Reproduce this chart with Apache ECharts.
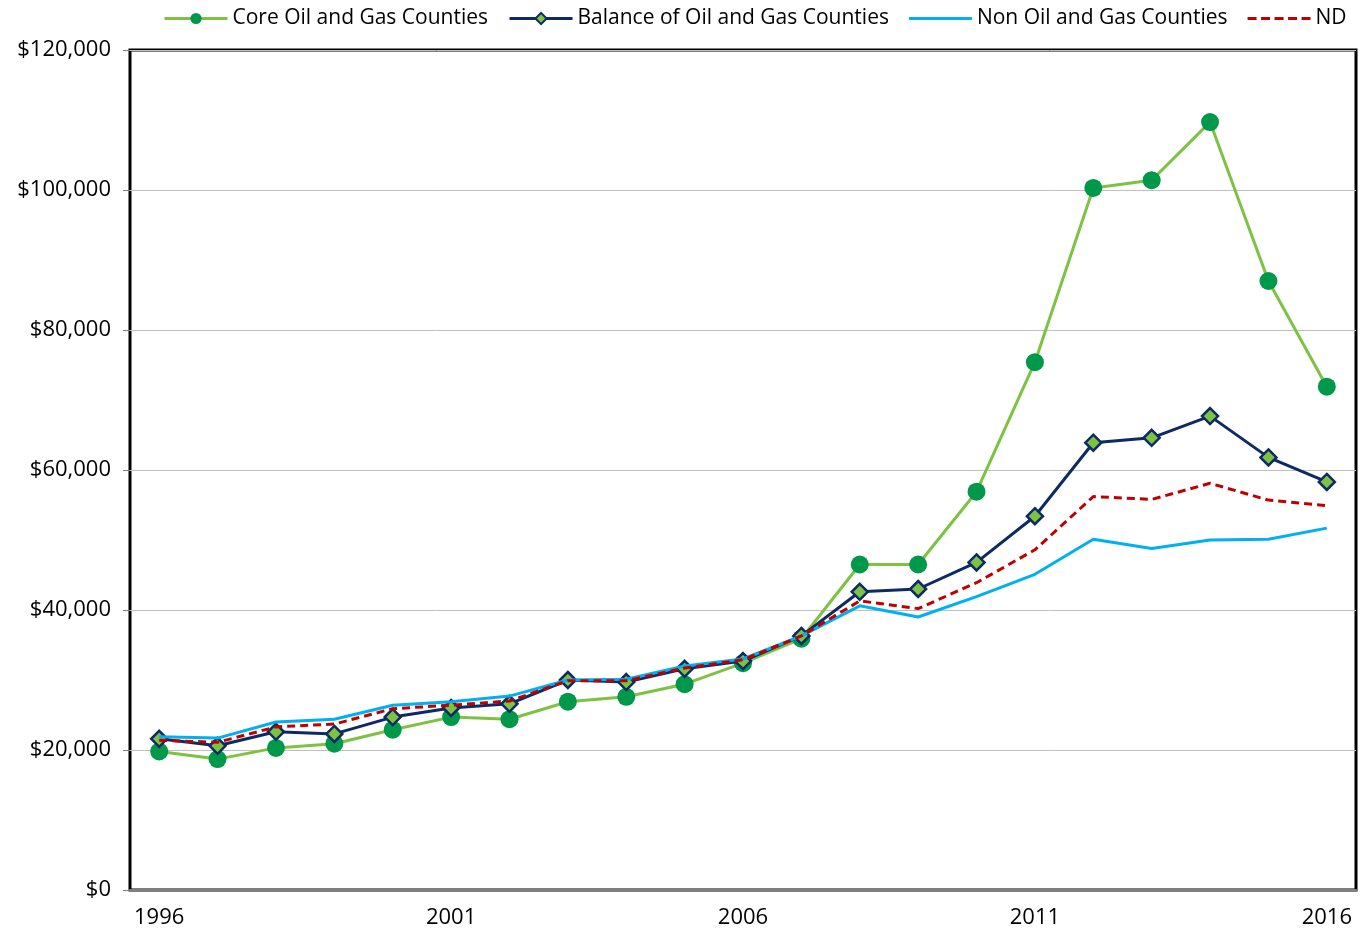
<!DOCTYPE html>
<html>
<head>
<meta charset="utf-8">
<script src="https://cdn.jsdelivr.net/npm/echarts@6/dist/echarts.min.js"></script>
<style>html,body{margin:0;padding:0;background:#fff}#c{width:1364px;height:932px}</style>
</head>
<body>
<div id="c"></div>
<script>
const years = ['1996','1997','1998','1999','2000','2001','2002','2003','2004','2005','2006','2007','2008','2009','2010','2011','2012','2013','2014','2015','2016'];
const coreCounties = [19800,18700,20300,20900,22900,24700,24400,26900,27600,29400,32400,35900,46500,46500,56900,75400,100300,101400,109700,87000,71900];
const balanceCounties = [21600,20600,22600,22300,24700,26000,26600,30000,29700,31600,32700,36300,42600,43000,46800,53400,63900,64600,67700,61800,58300];
const nonCounties = [21900,21700,24000,24400,26400,26900,27700,30000,30100,32000,33000,36300,40600,39000,41900,45100,50100,48800,50000,50100,51700];
const ndState = [21400,21100,23300,23700,25900,26400,27000,29900,29900,31700,32900,36300,41300,40200,43900,48600,56200,55800,58100,55700,54900];
const yTicks = {min:0, max:120000, interval:20000};

const FONT = 'Open Sans';
// legend icons (frame points at corners keep the icon box at full size)
const frame = 'M0,0 L0.01,0 L0.01,0.01 Z M63,14 L62.99,14 L62.99,13.99 Z ';
const solidIcon = 'path://' + frame + 'M0,5.5 L63,5.5 L63,8.5 L0,8.5 Z';
const dashIcon = 'path://' + frame +
  'M0,5.5 L9,5.5 L9,8.5 L0,8.5 Z M13.5,5.5 L22.5,5.5 L22.5,8.5 L13.5,8.5 Z M27,5.5 L36,5.5 L36,8.5 L27,8.5 Z M40.5,5.5 L49.5,5.5 L49.5,8.5 L40.5,8.5 Z M54,5.5 L63,5.5 L63,8.5 L54,8.5 Z';

const chart = echarts.init(document.getElementById('c'));
chart.setOption({
  animation:false,
  backgroundColor:'#fff',
  textStyle:{fontFamily:FONT},
  legend:{
    top:3, left:158,
    itemWidth:63, itemHeight:14, itemGap:20,
    textStyle:{fontSize:21, color:'#000', fontFamily:FONT},
    lineStyle:{width:3},
    data:[
      {name:'Core Oil and Gas Counties'},
      {name:'Balance of Oil and Gas Counties'},
      {name:'Non Oil and Gas Counties', icon:solidIcon},
      {name:'ND', icon:dashIcon}
    ]
  },
  grid:{left:130, right:8, top:50, bottom:42, show:true, borderColor:'#000', borderWidth:3, backgroundColor:'transparent'},
  xAxis:{
    type:'category', data:years, boundaryGap:true,
    axisLine:{lineStyle:{color:'#808080', width:3}},
    axisTick:{show:false},
    axisLabel:{interval:4, color:'#000', fontSize:22, margin:17, fontFamily:FONT}
  },
  yAxis:{
    type:'value', min:yTicks.min, max:yTicks.max, interval:yTicks.interval,
    axisLine:{show:false},
    axisTick:{show:true, length:7, lineStyle:{color:'#808080', width:1}},
    splitLine:{lineStyle:{color:'#C0C0C0', width:1}},
    axisLabel:{color:'#000', fontSize:22, margin:19, fontFamily:FONT,
      formatter:v=>'$'+v.toLocaleString('en-US')}
  },
  series:[
    {name:'Core Oil and Gas Counties', type:'line', data:coreCounties,
     symbol:'circle', symbolSize:18,
     lineStyle:{color:'#7DC242', width:3},
     itemStyle:{color:'#00984A', borderWidth:0}, z:2},
    {name:'Balance of Oil and Gas Counties', type:'line', data:balanceCounties,
     symbol:'diamond', symbolSize:16,
     lineStyle:{color:'#0D2A66', width:3},
     itemStyle:{color:'#7DC242', borderColor:'#0D2A66', borderWidth:2.5}, z:3},
    {name:'Non Oil and Gas Counties', type:'line', data:nonCounties,
     symbol:'none', showSymbol:false,
     lineStyle:{color:'#00B0F0', width:3},
     itemStyle:{color:'#00B0F0'}, z:4},
    {name:'ND', type:'line', data:ndState,
     symbol:'none', showSymbol:false,
     lineStyle:{color:'#C00000', width:3, type:[8,5]},
     itemStyle:{color:'#C00000'}, z:5}
  ]
});
</script>
</body>
</html>
